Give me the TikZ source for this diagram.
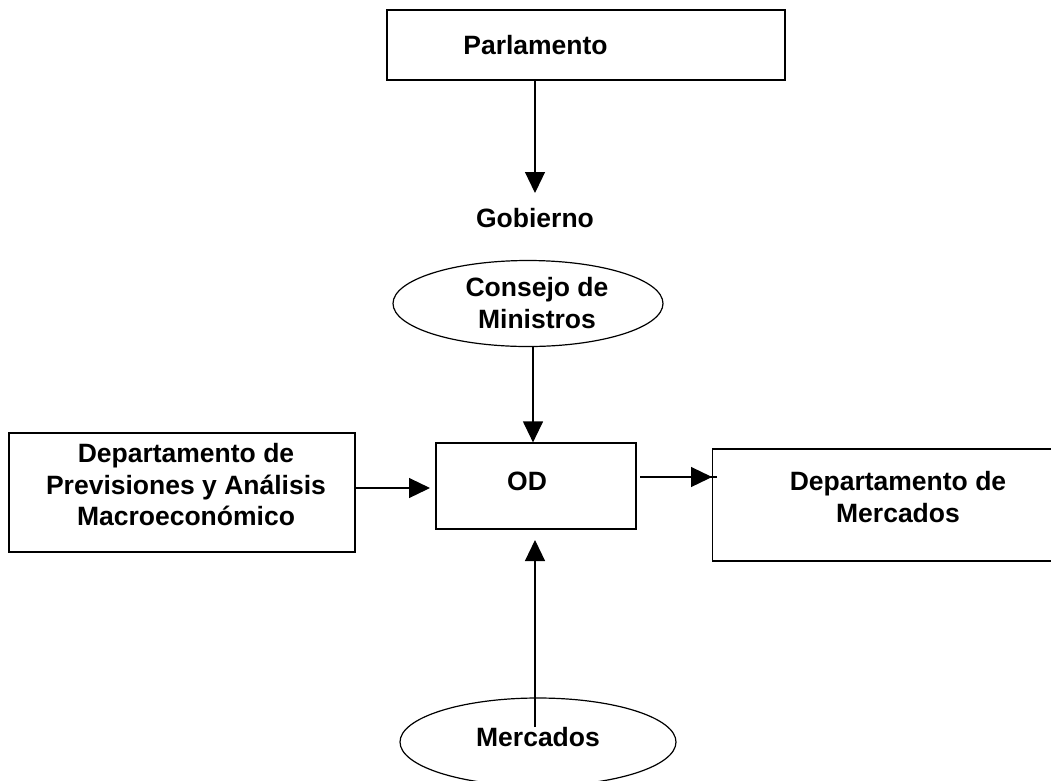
\documentclass[tikz,border=0pt]{standalone}
\usepackage{fontspec}
\setmainfont{Liberation Sans}
\usetikzlibrary{arrows.meta,shapes.geometric}
\begin{document}
\begin{tikzpicture}[x=1pt,y=-1pt,
  every node/.style={font=\fontsize{26.5}{31.5}\selectfont\bfseries, inner sep=0pt, align=center},
  frame/.style={draw, line width=1.2pt, rectangle, inner sep=0pt},
  oval/.style={draw, line width=1.2pt, ellipse, inner sep=0pt},
  arr/.style={line width=1.2pt, -{Triangle[width=20pt,length=21pt]}}]
\clip (0,0) rectangle (1051,780);
% Parlamento
\node[frame, minimum width=398pt, minimum height=70pt] (parl) at (586,45) {};
\node (parltxt) at (535.5,45.5) {Parlamento};
% Gobierno / Consejo de Ministros
\node (gob) at (535,218.5) {Gobierno};
\node[oval, minimum width=270pt, minimum height=86pt] (cm) at (528,303.5) {};
\node (cmtxt) at (537,303) {Consejo de\\Ministros};
% OD
\node[frame, minimum width=200pt, minimum height=86pt] (od) at (536,486) {};
\node (odtxt) at (527,481) {OD};
% Departamento de Previsiones
\node[frame, minimum width=346pt, minimum height=119pt] (dpa) at (182,492.5) {};
\node (dpatxt) at (186,485) {Departamento de\\Previsiones y Análisis\\Macroeconómico};
% Departamento de Mercados (runs past the right edge)
\node[frame, minimum width=360pt, minimum height=112pt, anchor=west] (dm) at (712,505) {};
\node (dmtxt) at (898,497) {Departamento de\\Mercados};
% Mercados
\node[oval, minimum width=276pt, minimum height=88pt] (merc) at (538,742) {};
\node (merctxt) at (538,737) {Mercados};
% connectors
\coordinate (a1) at (535,193);
\draw[arr] (parl.south -| a1) -- (a1);
\draw[arr] (cm.south -| 533,0) -- (od.north -| 533,0);
\coordinate (a2) at (430,488);
\draw[arr] (dpa.east |- a2) -- (a2);
\coordinate (a3) at (640,477);
\draw[line width=1.2pt] (a3) -- (dm.west |- a3) -- ++(5,0);
\draw[arr] (a3) -- (dm.west |- a3);
\coordinate (a4) at (535,727);
\draw[arr] (a4) -- (535,540);
\end{tikzpicture}
\end{document}
